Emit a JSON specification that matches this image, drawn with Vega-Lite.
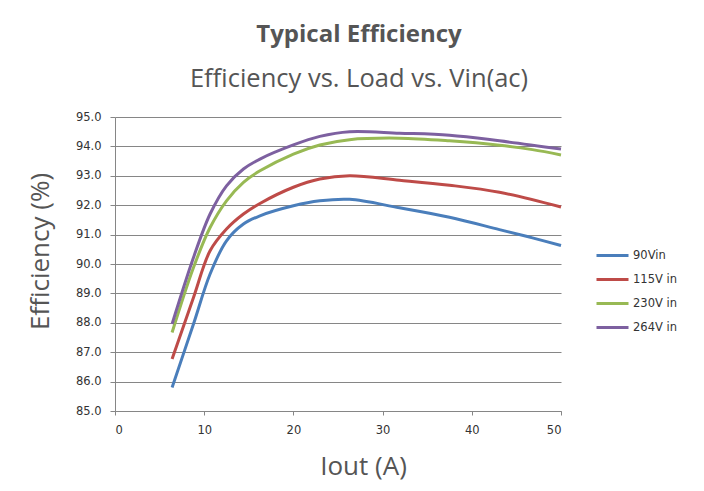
{
  "$schema": "https://vega.github.io/schema/vega-lite/v6.json",
  "autosize": {"type": "none"},
  "width": 446,
  "height": 294,
  "padding": {"left": 115, "top": 117, "right": 143, "bottom": 80},
  "background": "white",
  "title": {
    "text": "Typical Efficiency",
    "subtitle": "Efficiency vs. Load vs. Vin(ac)",
    "anchor": "middle",
    "dx": 21,
    "font": "Open Sans",
    "fontSize": 24,
    "fontWeight": "bold",
    "color": "#555555",
    "subtitleFont": "Open Sans",
    "subtitleFontSize": 25.5,
    "subtitleColor": "#555555",
    "subtitlePadding": 20,
    "offset": 19
  },
  "data": {
    "values": [
      {"load": 6.4, "eff": 85.80, "vin": "90Vin"},
      {"load": 8.8, "eff": 87.96, "vin": "90Vin"},
      {"load": 10.66, "eff": 89.66, "vin": "90Vin"},
      {"load": 12.5, "eff": 90.79, "vin": "90Vin"},
      {"load": 14.4, "eff": 91.36, "vin": "90Vin"},
      {"load": 16.25, "eff": 91.64, "vin": "90Vin"},
      {"load": 20.0, "eff": 91.98, "vin": "90Vin"},
      {"load": 22.96, "eff": 92.15, "vin": "90Vin"},
      {"load": 26.3, "eff": 92.20, "vin": "90Vin"},
      {"load": 31.9, "eff": 91.91, "vin": "90Vin"},
      {"load": 37.5, "eff": 91.59, "vin": "90Vin"},
      {"load": 43.1, "eff": 91.17, "vin": "90Vin"},
      {"load": 46.8, "eff": 90.89, "vin": "90Vin"},
      {"load": 50.0, "eff": 90.63, "vin": "90Vin"},
      {"load": 6.4, "eff": 86.77, "vin": "115V in"},
      {"load": 8.8, "eff": 88.86, "vin": "115V in"},
      {"load": 10.66, "eff": 90.45, "vin": "115V in"},
      {"load": 12.5, "eff": 91.19, "vin": "115V in"},
      {"load": 14.4, "eff": 91.70, "vin": "115V in"},
      {"load": 16.25, "eff": 92.06, "vin": "115V in"},
      {"load": 20.0, "eff": 92.61, "vin": "115V in"},
      {"load": 22.96, "eff": 92.89, "vin": "115V in"},
      {"load": 26.3, "eff": 93.00, "vin": "115V in"},
      {"load": 31.9, "eff": 92.85, "vin": "115V in"},
      {"load": 37.5, "eff": 92.68, "vin": "115V in"},
      {"load": 43.1, "eff": 92.44, "vin": "115V in"},
      {"load": 50.0, "eff": 91.94, "vin": "115V in"},
      {"load": 6.4, "eff": 87.67, "vin": "230V in"},
      {"load": 8.8, "eff": 89.88, "vin": "230V in"},
      {"load": 10.66, "eff": 91.24, "vin": "230V in"},
      {"load": 12.5, "eff": 92.15, "vin": "230V in"},
      {"load": 14.4, "eff": 92.78, "vin": "230V in"},
      {"load": 16.25, "eff": 93.17, "vin": "230V in"},
      {"load": 20.0, "eff": 93.74, "vin": "230V in"},
      {"load": 22.96, "eff": 94.05, "vin": "230V in"},
      {"load": 26.3, "eff": 94.23, "vin": "230V in"},
      {"load": 31.9, "eff": 94.28, "vin": "230V in"},
      {"load": 37.5, "eff": 94.19, "vin": "230V in"},
      {"load": 43.1, "eff": 94.04, "vin": "230V in"},
      {"load": 46.8, "eff": 93.89, "vin": "230V in"},
      {"load": 50.0, "eff": 93.71, "vin": "230V in"},
      {"load": 6.4, "eff": 87.96, "vin": "264V in"},
      {"load": 8.8, "eff": 90.22, "vin": "264V in"},
      {"load": 10.66, "eff": 91.70, "vin": "264V in"},
      {"load": 12.5, "eff": 92.66, "vin": "264V in"},
      {"load": 14.4, "eff": 93.23, "vin": "264V in"},
      {"load": 16.25, "eff": 93.57, "vin": "264V in"},
      {"load": 20.0, "eff": 94.05, "vin": "264V in"},
      {"load": 22.96, "eff": 94.34, "vin": "264V in"},
      {"load": 26.3, "eff": 94.50, "vin": "264V in"},
      {"load": 31.9, "eff": 94.45, "vin": "264V in"},
      {"load": 37.5, "eff": 94.38, "vin": "264V in"},
      {"load": 43.1, "eff": 94.19, "vin": "264V in"},
      {"load": 50.0, "eff": 93.91, "vin": "264V in"}
    ]
  },
  "mark": {"type": "line", "interpolate": "catmull-rom", "strokeWidth": 3},
  "encoding": {
    "x": {
      "field": "load", "type": "quantitative",
      "scale": {"domain": [0, 50], "nice": false},
      "axis": {
        "title": "Iout (A)", "values": [0, 10, 20, 30, 40, 50],
        "grid": false, "tickSize": 4, "tickColor": "#868686",
        "domainColor": "#868686", "labelPadding": 9,
        "titlePadding": 18, "titleX": 248
      }
    },
    "y": {
      "field": "eff", "type": "quantitative",
      "scale": {"domain": [85, 95], "nice": false, "zero": false},
      "axis": {
        "title": "Efficiency (%)", "values": [85, 86, 87, 88, 89, 90, 91, 92, 93, 94, 95],
        "format": ".1f", "grid": true, "gridColor": "#868686",
        "tickSize": 5, "tickColor": "#868686", "domainColor": "#868686", "labelPadding": 9,
        "titlePadding": 22, "titleY": 134
      }
    },
    "color": {
      "field": "vin", "type": "nominal",
      "scale": {
        "domain": ["90Vin", "115V in", "230V in", "264V in"],
        "range": ["#4a7ebb", "#be4b48", "#98b954", "#7d60a0"]
      },
      "legend": {
        "title": null, "orient": "none", "legendX": 480, "legendY": 121,
        "symbolType": "stroke", "symbolSize": 1024, "symbolStrokeWidth": 3,
        "rowPadding": 0, "labelFontSize": 11.5, "labelOffset": 3,
        "labelFont": "DejaVu Sans", "labelColor": "#333333"
      }
    }
  },
  "config": {
    "view": {"stroke": null},
    "axis": {
      "labelFont": "DejaVu Sans", "labelFontSize": 11.5, "labelColor": "#333333",
      "titleFont": "Open Sans", "titleFontSize": 26, "titleFontWeight": "normal",
      "titleColor": "#555555"
    }
  }
}
